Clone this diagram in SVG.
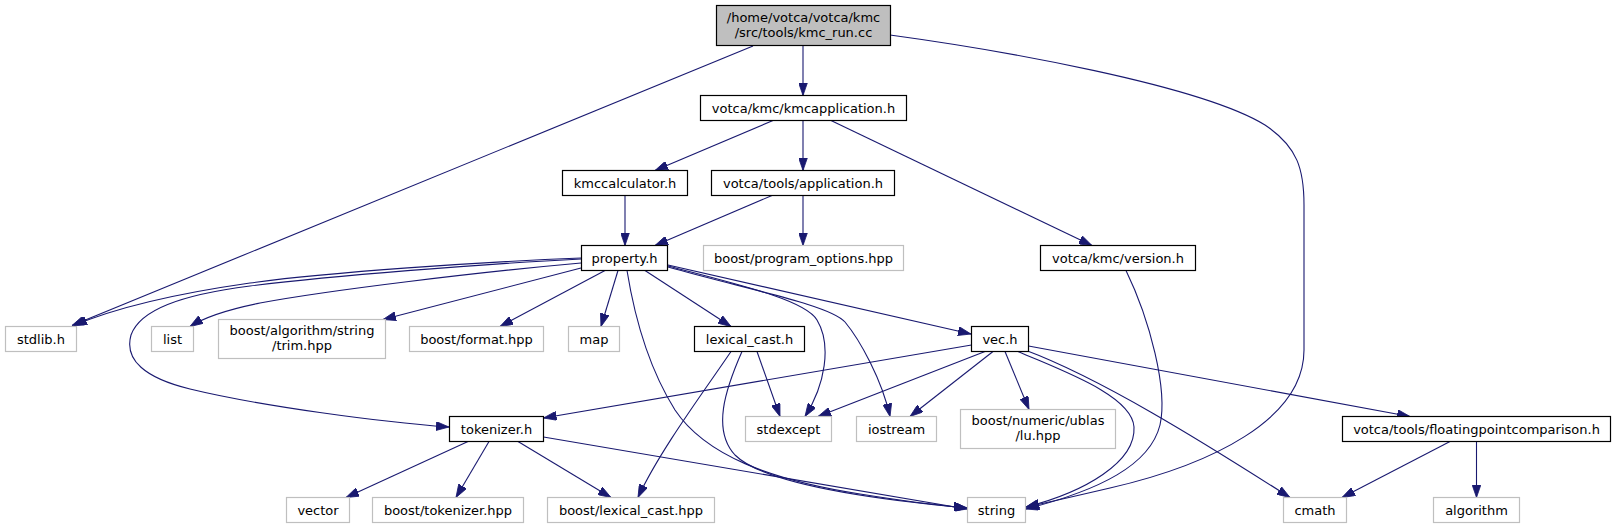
<svg xmlns="http://www.w3.org/2000/svg" width="1616" height="529" viewBox="0 0 1616 529">
<style>
.node rect{fill:#ffffff;stroke:#000000;stroke-width:1.2}
.node.ext rect{stroke:#bfbfbf}
.node.root rect{fill:#bfbfbf}
.node text{font-family:"DejaVu Sans","Liberation Sans",sans-serif;font-size:13px;fill:#000000;text-anchor:middle}
.edges path{fill:none;stroke:#191970;stroke-width:1.1;marker-end:url(#arr)}
</style>
<defs>
<marker id="arr" markerUnits="userSpaceOnUse" markerWidth="13" markerHeight="9" viewBox="0 0 13 9" refX="13" refY="4.5" orient="auto">
<path d="M0,0 L13,4.5 L0,9 z" fill="#191970" stroke="#191970" stroke-width="0.8"/>
</marker>
</defs>
<rect x="0" y="0" width="1616" height="529" fill="#ffffff"/>
<g id="edges" class="edges">
<path d="M803,46 L803,95.5"/>
<path d="M753,46 L72,325.5"/>
<path d="M890,35 C1000,50 1200,85 1265,125 C1298,147 1304,170 1304,205 L1304,350 C1304,420 1210,465 1110,488 C1080,495 1050,502 1026,507"/>
<path d="M773,120.5 L655,170.5"/>
<path d="M803,120.5 L803,170.5"/>
<path d="M831,120.5 L1092,245.5"/>
<path d="M625,195.5 L625,245.5"/>
<path d="M772,195.5 L655,245.5"/>
<path d="M803,195.5 L803,245.5"/>
<path d="M1126,270.5 C1150,320 1168,390 1160,425 C1150,465 1100,490 1026,509"/>
<path d="M581,258 C480,262 330,272 250,283 C180,293 115,308 74,325.5"/>
<path d="M581,259 C480,264 330,276 250,286 C180,295 140,310 131,335 C124,360 145,378 190,389 C260,406 380,422 449,427"/>
<path d="M581,263 C480,272 330,290 260,303 C225,310 205,317 190,326.5"/>
<path d="M581,268 L383,319.5"/>
<path d="M605,270.5 L500,326.5"/>
<path d="M618,270.5 L601,326.5"/>
<path d="M645,270.5 L731,326.5"/>
<path d="M627,270.5 C635,320 650,370 675,410 C705,455 770,480 860,494 C910,502 945,506 967,508"/>
<path d="M668,266 C740,285 805,300 817,320 C832,345 825,385 805,416.5"/>
<path d="M668,267 C750,290 830,305 845,322 C860,340 882,380 890,416.5"/>
<path d="M668,265 L971,334"/>
<path d="M757,351.5 L780,416.5"/>
<path d="M731,351.5 C705,390 660,450 638,497.5"/>
<path d="M742,351.5 C725,390 712,430 735,455 C765,485 880,500 967,508"/>
<path d="M971.5,345 L543.5,418"/>
<path d="M985,351.5 L818,416.5"/>
<path d="M993,351.5 L910,416.5"/>
<path d="M1005,351.5 L1029,409.5"/>
<path d="M1018,351.5 C1060,370 1132,395 1134,427 C1136,462 1085,492 1026,507"/>
<path d="M1028.5,346 L1410,416.5"/>
<path d="M1025,350 C1100,378 1200,440 1290,497.5"/>
<path d="M468,441.5 L346,497.5"/>
<path d="M489,441.5 L456,497.5"/>
<path d="M518,441.5 L611,497.5"/>
<path d="M543.5,437 L967,509"/>
<path d="M1450,441.5 L1342,497.5"/>
<path d="M1476.5,441.5 L1476.5,497.5"/>
</g>
<g id="node_kmc_run" class="node root"><rect x="716.5" y="5.5" width="174" height="40"/><text x="803.5" y="22">/home/votca/votca/kmc</text><text x="803.5" y="37">/src/tools/kmc_run.cc</text></g>
<g id="node_kmcapplication" class="node"><rect x="700.5" y="95.5" width="206" height="25"/><text x="803.5" y="112.5">votca/kmc/kmcapplication.h</text></g>
<g id="node_kmccalculator" class="node"><rect x="562.5" y="170.5" width="125" height="25"/><text x="625" y="187.5">kmccalculator.h</text></g>
<g id="node_application" class="node"><rect x="711.5" y="170.5" width="183" height="25"/><text x="803" y="187.5">votca/tools/application.h</text></g>
<g id="node_property" class="node"><rect x="581.5" y="245.5" width="86" height="25"/><text x="624.5" y="262.5">property.h</text></g>
<g id="node_program_options" class="node ext"><rect x="703.5" y="245.5" width="200" height="25"/><text x="803.5" y="262.5">boost/program_options.hpp</text></g>
<g id="node_version" class="node"><rect x="1040.5" y="245.5" width="155" height="25"/><text x="1118" y="262.5">votca/kmc/version.h</text></g>
<g id="node_stdlib" class="node ext"><rect x="5.5" y="326.5" width="71" height="25"/><text x="41" y="343.5">stdlib.h</text></g>
<g id="node_list" class="node ext"><rect x="151.5" y="326.5" width="42" height="25"/><text x="172.5" y="343.5">list</text></g>
<g id="node_trim" class="node ext"><rect x="218.5" y="319.5" width="167" height="39"/><text x="302" y="335">boost/algorithm/string</text><text x="302" y="350">/trim.hpp</text></g>
<g id="node_format" class="node ext"><rect x="409.5" y="326.5" width="134" height="25"/><text x="476.5" y="343.5">boost/format.hpp</text></g>
<g id="node_map" class="node ext"><rect x="568.5" y="326.5" width="51" height="25"/><text x="594" y="343.5">map</text></g>
<g id="node_lexical_cast_h" class="node"><rect x="694.5" y="326.5" width="110" height="25"/><text x="749.5" y="343.5">lexical_cast.h</text></g>
<g id="node_vec" class="node"><rect x="971.5" y="326.5" width="57" height="25"/><text x="1000" y="343.5">vec.h</text></g>
<g id="node_tokenizer_h" class="node"><rect x="449.5" y="416.5" width="94" height="25"/><text x="496.5" y="433.5">tokenizer.h</text></g>
<g id="node_stdexcept" class="node ext"><rect x="745.5" y="416.5" width="86" height="25"/><text x="788.5" y="433.5">stdexcept</text></g>
<g id="node_iostream" class="node ext"><rect x="856.5" y="416.5" width="80" height="25"/><text x="896.5" y="433.5">iostream</text></g>
<g id="node_lu" class="node ext"><rect x="960.5" y="409.5" width="155" height="39"/><text x="1038" y="425">boost/numeric/ublas</text><text x="1038" y="440">/lu.hpp</text></g>
<g id="node_floatingpoint" class="node"><rect x="1342.5" y="416.5" width="268" height="25"/><text x="1476.5" y="433.5">votca/tools/floatingpointcomparison.h</text></g>
<g id="node_vector" class="node ext"><rect x="286.5" y="497.5" width="63" height="25"/><text x="318" y="514.5">vector</text></g>
<g id="node_boost_tokenizer" class="node ext"><rect x="372.5" y="497.5" width="151" height="25"/><text x="448" y="514.5">boost/tokenizer.hpp</text></g>
<g id="node_boost_lexical_cast" class="node ext"><rect x="547.5" y="497.5" width="167" height="25"/><text x="631" y="514.5">boost/lexical_cast.hpp</text></g>
<g id="node_string" class="node ext"><rect x="967.5" y="497.5" width="58" height="25"/><text x="996.5" y="514.5">string</text></g>
<g id="node_cmath" class="node ext"><rect x="1283.5" y="497.5" width="63" height="25"/><text x="1315" y="514.5">cmath</text></g>
<g id="node_algorithm" class="node ext"><rect x="1433.5" y="497.5" width="86" height="25"/><text x="1476.5" y="514.5">algorithm</text></g>
</svg>
